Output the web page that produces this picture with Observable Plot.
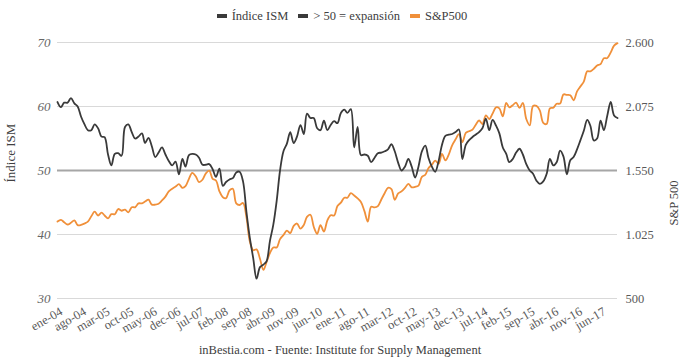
<!DOCTYPE html>
<html><head><meta charset="utf-8">
<script src="https://cdn.jsdelivr.net/npm/d3@7"></script>
<script src="https://cdn.jsdelivr.net/npm/@observablehq/plot@0.6"></script>
<style>
body{margin:0;background:#fff;}
#wrap{position:relative;width:680px;height:359px;font-family:"Liberation Serif",serif;overflow:hidden;}
#chart{position:absolute;left:0;top:0;}
#legend{position:absolute;top:9px;left:2px;width:680px;text-align:center;font-size:12.5px;color:#404040;white-space:nowrap;}
#legend .item{display:inline-block;margin:0 5px;}
#legend .sw{display:inline-block;width:10px;height:4px;vertical-align:middle;margin-right:5px;position:relative;top:-1px;}
#footer{position:absolute;top:343px;left:0;width:680px;text-align:center;font-size:12.5px;color:#404040;}
</style></head><body>
<div id="wrap"><div id="chart"></div><div id="legend"></div><div id="footer">inBestia.com - Fuente: Institute for Supply Management</div></div>
<script>
// Monthly categories: ene-2004 .. nov-2017
const firstMonth = Date.UTC(2004, 0, 1);
const endMonthExclusive = Date.UTC(2017, 11, 1);

// Índice ISM (monthly)
const ism = [
  60.7, 59.9, 60.6, 60.6, 61.3, 60.5, 60.0, 58.4, 57.2, 56.3, 56.3, 57.2,
  56.6, 55.3, 55.2, 52.5, 50.8, 52.6, 52.7, 52.3, 56.8, 57.2, 56.0, 55.0,
  55.3, 55.8, 54.3, 55.1, 53.8, 52.1, 52.8, 53.6, 52.5, 51.5, 50.8, 51.4,
  49.4, 51.8, 50.6, 52.4, 52.6, 52.5, 52.0, 50.9, 50.9, 51.0, 50.2, 49.0,
  50.3, 47.6, 48.2, 48.6, 48.8, 49.7, 49.8, 48.3, 43.5, 39.5, 36.3, 33.1,
  34.9, 35.3, 35.8, 39.0, 41.5, 45.3, 50.0, 53.0, 54.2, 56.0, 54.3, 55.3,
  57.1, 55.7, 58.9, 58.2, 58.2, 56.6, 56.3, 57.8, 56.3, 57.1, 57.7, 57.4,
  59.0, 59.5, 59.0, 59.6, 53.6, 56.8, 52.4, 52.5, 52.3, 51.3, 52.0, 52.7,
  52.8, 53.0, 53.3, 54.1, 53.0, 51.2, 50.0, 50.6, 51.8, 50.6, 48.9, 50.6,
  53.0, 53.9, 52.0, 50.6, 49.8, 51.5, 54.0, 55.4, 55.6, 55.7, 56.0, 56.4,
  51.8, 54.0, 54.7, 55.2, 55.6, 56.0, 56.6, 58.1, 56.3, 57.9, 57.0, 55.8,
  53.6, 52.6, 51.3, 51.8, 52.8, 53.4, 52.5, 51.0, 50.0, 49.5, 48.4, 47.9,
  48.3, 49.5, 51.8, 50.8, 51.3, 53.1, 52.2, 49.4, 51.6, 52.1, 53.3, 54.7,
  56.2, 57.9, 57.0, 54.7, 55.0, 57.8, 56.3, 58.6, 60.7, 58.6, 58.2
];

// S&P500 (monthly)
const sp500 = [
  1131, 1145, 1126, 1107, 1121, 1141, 1102, 1104, 1115, 1130, 1174, 1212,
  1181, 1204, 1181, 1157, 1192, 1191, 1234, 1220, 1229, 1207, 1249, 1248,
  1280, 1281, 1295, 1311, 1270, 1270, 1277, 1304, 1336, 1378, 1401, 1418,
  1438, 1407, 1421, 1482, 1531, 1503, 1455, 1474, 1527, 1549, 1481, 1468,
  1379, 1331, 1323, 1386, 1400, 1280, 1267, 1283, 1165, 969, 896, 903,
  826, 735, 798, 873, 919, 919, 987, 1021, 1057, 1036, 1096, 1115,
  1074, 1104, 1169, 1187, 1089, 1031, 1102, 1049, 1141, 1183, 1181, 1258,
  1286, 1327, 1326, 1364, 1345, 1321, 1292, 1219, 1131, 1253, 1247, 1258,
  1312, 1366, 1408, 1398, 1310, 1362, 1379, 1407, 1441, 1412, 1416, 1426,
  1498, 1515, 1569, 1598, 1631, 1606, 1686, 1633, 1682, 1757, 1806, 1848,
  1783, 1859, 1872, 1884, 1924, 1960, 1931, 2003, 1972, 2018, 2068, 2059,
  1995, 2105, 2068, 2086, 2107, 2063, 2104, 1972, 1920, 2079, 2080, 2044,
  1940, 1932, 2060, 2065, 2097, 2099, 2174, 2171, 2168, 2126, 2199, 2239,
  2279, 2364, 2363, 2384, 2412, 2423, 2470, 2472, 2519, 2575, 2595
];

// Tick labels
const tickLabels = ["ene-04","ago-04","mar-05","oct-05","may-06","dec-06","jul-07","feb-08","sep-08","abr-09","nov-09","jun-10","ene-11","ago-11","mar-12","oct-12","may-13","dec-13","jul-14","feb-15","sep-15","abr-16","nov-16","jun-17"];
const leftTicks = [30, 40, 50, 60, 70];
const rightTicks = [500, 1025, 1550, 2075, 2600];
const legendItems = [
  {label: "Índice ISM", color: "#3a3a3a"},
  {label: "> 50 = expansión", color: "#3a3a3a"},
  {label: "S&P500", color: "#f0903a"}
];

// Secondary axis mapping (ISM 30..70 <-> S&P 500..2600)
const ismMin = 30, ismMax = 70, spMin = 500, spMax = 2600;
const k = (spMax - spMin) / (ismMax - ismMin);
const spToIsm = v => ismMin + (v - spMin) / k;
const ismToSp = v => spMin + (v - ismMin) * k;

const months = d3.utcMonth.range(new Date(firstMonth), new Date(endMonthExclusive));
const ismData = months.map((d, i) => ({date: d, v: ism[i]}));
const spData = months.map((d, i) => ({date: d, v: spToIsm(sp500[i])}));

const monthAbbr = {ene:0,feb:1,mar:2,abr:3,may:4,jun:5,jul:6,ago:7,sep:8,oct:9,nov:10,dec:11,dic:11};
const tickDates = tickLabels.map(l => {
  const [m, y] = l.split("-");
  return new Date(Date.UTC(2000 + +y, monthAbbr[m], 1));
});
const labelMap = new Map(tickDates.map((d, i) => [+d, tickLabels[i]]));
const esFmt = d3.formatLocale({decimal: ",", thousands: ".", grouping: [3], currency: ["", "€"]}).format(",");

const FONT = '"Liberation Serif", serif';
const chart = Plot.plot({
  width: 680, height: 359,
  marginLeft: 57, marginRight: 63, marginTop: 42, marginBottom: 61,
  style: {fontFamily: FONT, background: "transparent", overflow: "visible"},
  x: {type: "utc", domain: [months[0], months[months.length - 1]]},
  y: {domain: [ismMin, ismMax]},
  marks: [
    Plot.ruleY(leftTicks.filter(t => t !== 50), {stroke: "#d9d9d9", strokeWidth: 1}),
    Plot.ruleY([50], {stroke: "#a6a6a6", strokeWidth: 2.2}),
    Plot.axisX({ticks: tickDates, tickFormat: d => labelMap.get(+d), tickSize: 0, tickPadding: 12, tickRotate: -30, dx: 4, fontSize: 12.5, fill: "#595959", label: null}),
    Plot.axisY({anchor: "left", ticks: leftTicks, tickSize: 0, tickPadding: 7, fontSize: 13, fontStyle: "italic", fill: "#666666", label: null}),
    Plot.axisY({anchor: "right", ticks: rightTicks.map(spToIsm), tickFormat: v => esFmt(Math.round(ismToSp(v))), tickSize: 0, tickPadding: 8, fontSize: 12.5, fill: "#595959", label: null}),
    Plot.lineY(spData, {x: "date", y: "v", stroke: "#f0903a", strokeWidth: 1.8, curve: "catmull-rom"}),
    Plot.lineY(ismData, {x: "date", y: "v", stroke: "#3a3a3a", strokeWidth: 1.8, curve: "catmull-rom"}),
    Plot.text(["Índice ISM"], {text: d => d, frameAnchor: "left", dx: -47, dy: 12, rotate: -90, fontSize: 13, fill: "#404040"}),
    Plot.text(["S&P 500"], {text: d => d, frameAnchor: "right", dx: 56, dy: 10, rotate: -90, fontSize: 12.5, fill: "#404040"})
  ]
});
document.getElementById("chart").appendChild(chart);

const legend = document.getElementById("legend");
legendItems.forEach(it => {
  const s = document.createElement("span");
  s.className = "item";
  const sw = document.createElement("span");
  sw.className = "sw";
  sw.style.background = it.color;
  s.appendChild(sw);
  s.appendChild(document.createTextNode(it.label));
  legend.appendChild(s);
});
</script>
</body></html>
